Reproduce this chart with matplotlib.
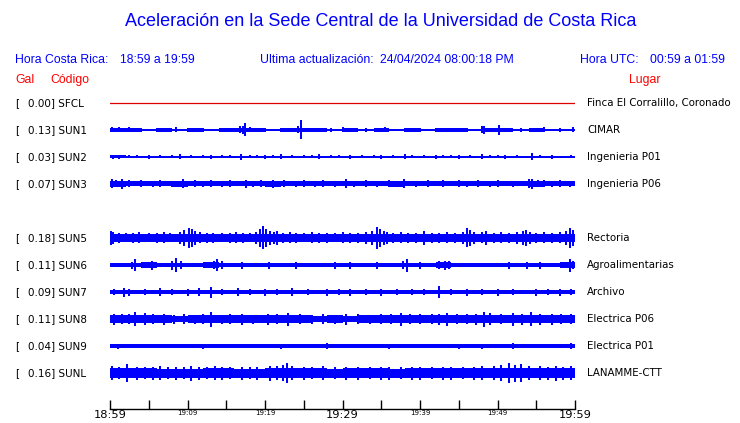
import numpy as np
import matplotlib
matplotlib.use("Agg")
import matplotlib.pyplot as plt
import matplotlib.transforms as mtransforms

# station list (top to bottom), row 4 is left empty
codes = ["SFCL", "SUN1", "SUN2", "SUN3", "SUN5", "SUN6", "SUN7", "SUN8", "SUN9", "SUNL"]
gal = [0.00, 0.13, 0.03, 0.07, 0.18, 0.11, 0.09, 0.11, 0.04, 0.16]
places = ["Finca El Corralillo, Coronado", "CIMAR", "Ingenieria P01", "Ingenieria P06",
          "Rectoria", "Agroalimentarias", "Archivo", "Electrica P06", "Electrica P01", "LANAMME-CTT"]
rows = [0, 1, 2, 3, 5, 6, 7, 8, 9, 10]

# background half-width of each trace, one value every 2 minutes
env_sfcl = [0.0] * 30
env_sun1 = [2.0, 1.6, 1.4, 1.6, 1.4, 1.6, 1.4, 1.6, 1.8, 1.6, 1.4, 1.6, 1.8, 1.6, 1.4, 1.6, 1.4, 1.6, 1.4, 1.6,
            1.4, 1.6, 1.6, 1.4, 1.8, 1.6, 1.4, 1.6, 1.4, 1.4]
env_sun2 = [1.5, 0.8, 0.8, 0.8, 0.8, 0.8, 0.8, 0.8, 0.8, 0.8, 0.8, 0.8, 0.8, 0.8, 0.8, 0.8, 0.8, 0.8, 0.8, 0.8,
            0.8, 0.8, 0.8, 0.8, 0.8, 0.8, 0.8, 0.8, 0.8, 0.8]
env_sun3 = [3.0, 2.5, 2.5, 2.5, 2.6, 2.5, 2.5, 2.5, 2.5, 2.5, 2.6, 2.5, 2.5, 2.5, 2.5, 2.5, 2.5, 2.5, 2.6, 2.5,
            2.5, 2.5, 2.5, 2.5, 2.5, 2.5, 2.5, 2.6, 2.5, 2.5]
env_sun5 = [4.2, 3.8, 3.8, 3.8, 4.0, 4.2, 3.8, 3.8, 3.8, 4.4, 3.8, 3.8, 4.0, 4.0, 3.8, 3.8, 3.8, 4.2, 3.8, 3.8,
            3.8, 3.8, 4.0, 4.2, 4.0, 3.8, 4.0, 4.0, 4.0, 4.4]
env_sun6 = [2.4, 2.4, 2.6, 2.4, 2.4, 2.4, 2.6, 2.4, 2.4, 2.4, 2.4, 2.4, 2.4, 2.4, 2.4, 2.4, 2.4, 2.4, 2.4, 2.4,
            2.4, 2.6, 2.4, 2.4, 2.4, 2.4, 2.4, 2.4, 2.4, 2.6]
env_sun7 = [2.4, 2.0, 2.0, 2.0, 2.0, 2.0, 2.0, 2.0, 2.0, 2.0, 2.0, 2.0, 2.0, 2.0, 2.0, 2.0, 2.0, 2.0, 2.0, 2.0,
            2.0, 2.0, 2.0, 2.0, 2.0, 2.0, 2.0, 2.0, 2.0, 2.0]
env_sun8 = [4.0, 4.0, 3.6, 3.6, 3.4, 3.6, 3.6, 3.6, 3.6, 3.6, 3.8, 3.6, 3.6, 3.4, 3.6, 3.4, 3.6, 3.8, 3.6, 3.8,
            3.6, 3.6, 3.6, 3.8, 3.8, 3.6, 3.8, 3.6, 3.6, 3.6]
env_sun9 = [1.8] * 30
env_sunl = [4.8, 4.6, 4.6, 4.5, 4.5, 4.5, 4.6, 4.6, 4.5, 4.5, 4.8, 5.0, 5.0, 4.6, 4.5, 4.6, 4.6, 4.6, 4.5, 4.6,
            4.8, 5.0, 4.8, 4.6, 4.6, 5.0, 5.2, 5.0, 4.8, 5.0]

# peaks (minute, half-height)
pk_sfcl = []
pk_sun1 = [(0.3, 2.5), (1.2, 2.5), (2.5, 2.5), (4, 2.2), (6, 2.2), (8.5, 2.5), (10, 2.2), (12, 2.2),
           (14.5, 2.2), (16.8, 3.5), (17.1, 4), (17.4, 6.5), (18, 2.5), (20, 2.2), (22, 2.2), (24.3, 3.5),
           (24.6, 9.5), (27, 2.2), (28.5, 2.2), (30, 2.5), (33, 2.2), (35.5, 2.5), (38, 2.2), (40, 2.2),
           (42, 2.2), (44.5, 2.2), (46, 2.2), (48.0, 3.5), (48.3, 4), (50.2, 5), (51.5, 2.2), (53, 2.2),
           (55, 2.2), (56, 2.5), (58, 2.2), (59.8, 2.5)]
pk_sun2 = [(0.4, 2), (1.2, 2), (2.5, 1.5), (3.5, 1.5), (5, 2), (6.5, 1.5), (8, 1.5), (9, 2.5), (10.5, 1.5),
           (12, 1.5), (13, 2), (14.5, 1.5), (15.5, 1.5), (16.9, 3), (18, 1.5), (19, 1.5), (20, 2), (21, 1.5),
           (22, 2.5), (23.5, 1.5), (25, 1.5), (26, 1.5), (27, 2.5), (28.5, 1.5), (29.5, 1.5), (31, 2),
           (32.5, 1.5), (34, 1.5), (35, 2), (36.5, 1.5), (38, 2.5), (39, 1.5), (40.5, 1.5), (42, 2),
           (43, 1.5), (44, 1.5), (45, 2), (46.5, 1.5), (48, 2.5), (49, 1.5), (50, 1.5), (51, 2),
           (52.5, 1.5), (54.5, 3.5), (55.5, 1.5), (57, 2), (59.5, 1.5)]
pk_sun3 = [(0.3, 4.5), (0.8, 3.5), (1.5, 5), (2.5, 3.5), (4, 3.5), (5.5, 3), (6.5, 3.5), (8, 3), (9.4, 4.5),
           (11, 3.5), (12, 3), (13, 3.5), (14.5, 3), (15.5, 3.5), (17.5, 4), (18.5, 3), (19.5, 3.5),
           (21, 4), (22.5, 3.5), (24, 3), (25, 3.5), (26.5, 3), (27.5, 3.5), (29, 3), (30.4, 4.5),
           (31.5, 3), (33, 3.5), (34.5, 3), (36, 3.5), (37.9, 4.5), (39.5, 3), (41, 3.5), (43, 3.5),
           (45, 3.5), (46, 3), (47.5, 3.5), (49, 3), (50, 3.5), (52, 3), (54, 4.5), (54.4, 5), (55.2, 3.5),
           (56, 3.5), (57, 3), (58, 3.5), (59.3, 3)]
pk_sun5 = [(0.1, 7), (0.4, 6), (1.2, 5), (2, 4.5), (3, 5), (3.8, 5.5), (5, 4.5), (6, 5), (7, 5.5),
           (7.8, 4.5), (9, 6), (9.6, 8), (10.2, 10), (10.6, 9), (11, 7), (11.6, 5.5), (12.5, 5), (13.3, 5),
           (14.5, 4.5), (15.5, 5), (16.3, 5.5), (17.2, 5), (18, 4.5), (18.8, 6), (19.4, 9), (19.7, 11.5),
           (20.1, 9), (20.6, 7), (21.2, 6), (21.6, 7), (22.3, 5), (23.2, 5.5), (24, 5), (25, 4.5),
           (26, 5.5), (27, 5), (28, 5), (29, 4.5), (30, 5.5), (31, 5), (32, 5), (33, 6), (33.8, 7),
           (34.4, 11), (34.8, 9), (35.3, 7), (35.8, 6), (36.5, 5), (37.5, 5.5), (38.5, 5), (39.5, 5),
           (40.5, 7), (41.5, 5), (42.5, 5), (43.5, 5.5), (44.5, 5), (45.5, 6), (46, 9.5), (46.4, 8),
           (47, 6), (48, 5.5), (48.5, 7), (49.5, 5), (50.5, 5.5), (51.5, 5), (52.5, 6), (53.3, 7),
           (53.7, 8), (54.2, 6), (55, 5), (56, 5.5), (57, 5), (58, 5.5), (58.8, 7), (59.3, 10), (59.7, 8)]
pk_sun6 = [(3.2, 6), (2.8, 3.5), (5.4, 4.5), (8.5, 7), (8.0, 4.5), (9.2, 4), (13.4, 4), (13.8, 6),
           (14.4, 4), (17, 3.5), (20.5, 3.5), (24, 3.5), (29, 3.5), (31, 3.5), (34.5, 3.5), (38.3, 6.5),
           (37.8, 4), (40, 3.5), (42.5, 4), (43.2, 4.5), (43.8, 4), (51.5, 3.5), (53.8, 3.5),
           (55.5, 3.5), (59.3, 6.5), (59.7, 4)]
pk_sun7 = [(0.5, 3), (1.8, 4.5), (2.5, 3.5), (4.5, 3), (6.5, 4), (8, 3), (10, 3.5), (11.5, 4), (13, 5.5),
           (14.5, 3), (16.5, 4), (18, 3), (20, 3.5), (21.5, 3), (23.5, 4), (25.5, 3), (28, 3.5), (29.5, 3),
           (31, 3.5), (33, 3), (35, 3.5), (37, 3), (39, 3), (40.5, 3), (42.4, 6), (44, 3), (46, 3.5),
           (48, 3), (50, 3.5), (52, 3), (55, 3.5), (56.5, 3), (58, 3.5), (59.5, 3)]
pk_sun8 = [(0.5, 5.5), (1.5, 5), (2.4, 5), (3.2, 7), (4.5, 6), (5.5, 5), (7, 5.5), (8.3, 4.5), (9.5, 5),
           (11, 4.5), (12, 5), (13, 7.5), (14.5, 4.5), (15.5, 5), (17, 5.5), (18.5, 4.5), (20.4, 5.5),
           (21.5, 5), (23, 6.5), (24.5, 5), (26, 4.5), (27.5, 5), (29, 4.5), (30.5, 5.5), (32, 5),
           (33.5, 4.5), (35, 5), (36.3, 5), (37.5, 6.5), (38.7, 5), (40, 5), (41.5, 5), (42.5, 5.5),
           (43.5, 6.5), (44.8, 5), (46, 5), (47.2, 5.5), (48.3, 7.5), (49, 6), (50.5, 5), (52, 6.5),
           (53.2, 5.5), (54.3, 7), (55.5, 5.5), (57, 5.5), (58.2, 5), (59.5, 5)]
pk_sun9 = [(1, 2.5), (5, 2.2), (12, 2.5), (17, 2.2), (22, 2.5), (28, 3), (32, 2.2), (36, 2.5), (40, 2.2),
           (45, 2.5), (48, 2.5), (52, 3), (55, 2.2), (59.5, 3)]
pk_sunl = [(0.3, 7), (1.2, 6), (2.2, 9), (3.5, 6.5), (4.5, 6), (5.5, 6.5), (6.5, 7), (7.5, 6), (8.5, 6.5),
           (9.5, 6), (10.5, 7.5), (11.5, 6.5), (12.5, 6), (13.5, 7), (14.5, 6.5), (15.5, 6), (17, 6.5),
           (18, 6), (19, 6.5), (20.6, 7.5), (21.5, 7), (22.3, 8), (22.8, 10), (23.5, 7), (25, 6.5),
           (26, 6), (27.5, 7), (29, 6), (30.5, 6.5), (32, 6.5), (33.5, 6), (35, 6.5), (36, 6.5),
           (37.5, 6), (39, 6.5), (40, 6.5), (41.5, 6), (43, 6.5), (44, 6.5), (45.5, 6), (47, 6.5),
           (48, 7), (49.5, 7), (50.5, 8), (51.5, 10), (52.2, 8.5), (53, 9), (54, 7), (55.5, 7), (56.5, 6.5),
           (57.5, 7.5), (58.5, 6.5), (59.5, 7)]

envs = [env_sfcl, env_sun1, env_sun2, env_sun3, env_sun5, env_sun6, env_sun7, env_sun8, env_sun9, env_sunl]
peaks = [pk_sfcl, pk_sun1, pk_sun2, pk_sun3, pk_sun5, pk_sun6, pk_sun7, pk_sun8, pk_sun9, pk_sunl]

tick_min = list(range(0, 61, 5))
tick_lab = ["18:59", "", "19:09", "", "19:19", "", "19:29", "", "19:39", "", "19:49", "", "19:59"]
big_labels = ["18:59", "19:29", "19:59"]

blue = "#0000ff"
red = "#ff0000"
spacing = 27

fig = plt.figure(figsize=(7.4, 4.23), dpi=100)
W, H = 740, 423

# header
fig.text(381 / W, 1 - 22 / H, "Aceleración en la Sede Central de la Universidad de Costa Rica",
         ha="center", va="center", color=blue, fontsize=13, family="Liberation Sans")
hdr = dict(va="center", color=blue, fontsize=8.8, family="Liberation Sans")
fig.text(15 / W, 1 - 60 / H, "Hora Costa Rica:", **hdr)
fig.text(120 / W, 1 - 60 / H, "18:59 a 19:59", **hdr)
fig.text(260 / W, 1 - 60 / H, "Ultima actualización:", **hdr)
fig.text(380 / W, 1 - 60 / H, "24/04/2024 08:00:18 PM", **hdr)
fig.text(580 / W, 1 - 60 / H, "Hora UTC:", **hdr)
fig.text(650 / W, 1 - 60 / H, "00:59 a 01:59", **hdr)
red_hdr = dict(va="center", color=red, fontsize=8.8, family="Liberation Sans")
fig.text(15 / W, 1 - 80 / H, "Gal", **red_hdr)
fig.text(50 / W, 1 - 80 / H, "Código", **red_hdr)
fig.text(661 / W, 1 - 80 / H, "Lugar", ha="right", **red_hdr)

ax = fig.add_axes([110 / W, (H - 409) / H, 465 / W, (409 - 90) / H])
ax.set_xlim(0, 60)
ax.set_ylim(-(409 - 103), 103 - 90)

edges = np.arange(0, 62, 2)
trans = mtransforms.blended_transform_factory(fig.transFigure, ax.transData)
for code, g, place, r, e, pk in zip(codes, gal, places, rows, envs, peaks):
    off = -r * spacing
    if code == "SFCL":
        ax.plot([0, 60], [off, off], color="#e00000", lw=0.9)
    else:
        e2 = np.array(e + [e[-1]])
        ax.fill_between(edges, off - e2, off + e2, step="post", color=blue, lw=0, antialiased=False)
        if pk:
            pt = [p[0] for p in pk]
            pa = [p[1] for p in pk]
            ax.vlines(pt, [off - a for a in pa], [off + a for a in pa], color=blue, lw=1.3,
                      antialiased=False)
    ax.text(15 / W, off, "[", transform=trans, va="center", fontsize=7.5, color="black")
    ax.text(28 / W, off, "%.2f] %s" % (g, code), transform=trans, va="center", fontsize=7.5, color="black")
    ax.text(587 / W, off, place, transform=trans, va="center", fontsize=7.4, color="black")

for s in ["top", "left", "right"]:
    ax.spines[s].set_visible(False)
ax.spines["bottom"].set_linewidth(1)
ax.set_yticks([])
ax.set_xticks(tick_min)
ax.set_xticklabels(tick_lab)
ax.tick_params(axis="x", direction="in", length=6.5, width=1, pad=1)
for lab in ax.get_xticklabels():
    if lab.get_text() in big_labels:
        lab.set_fontsize(8.2)
    else:
        lab.set_fontsize(5)

fig.savefig("out.png", dpi=100)
